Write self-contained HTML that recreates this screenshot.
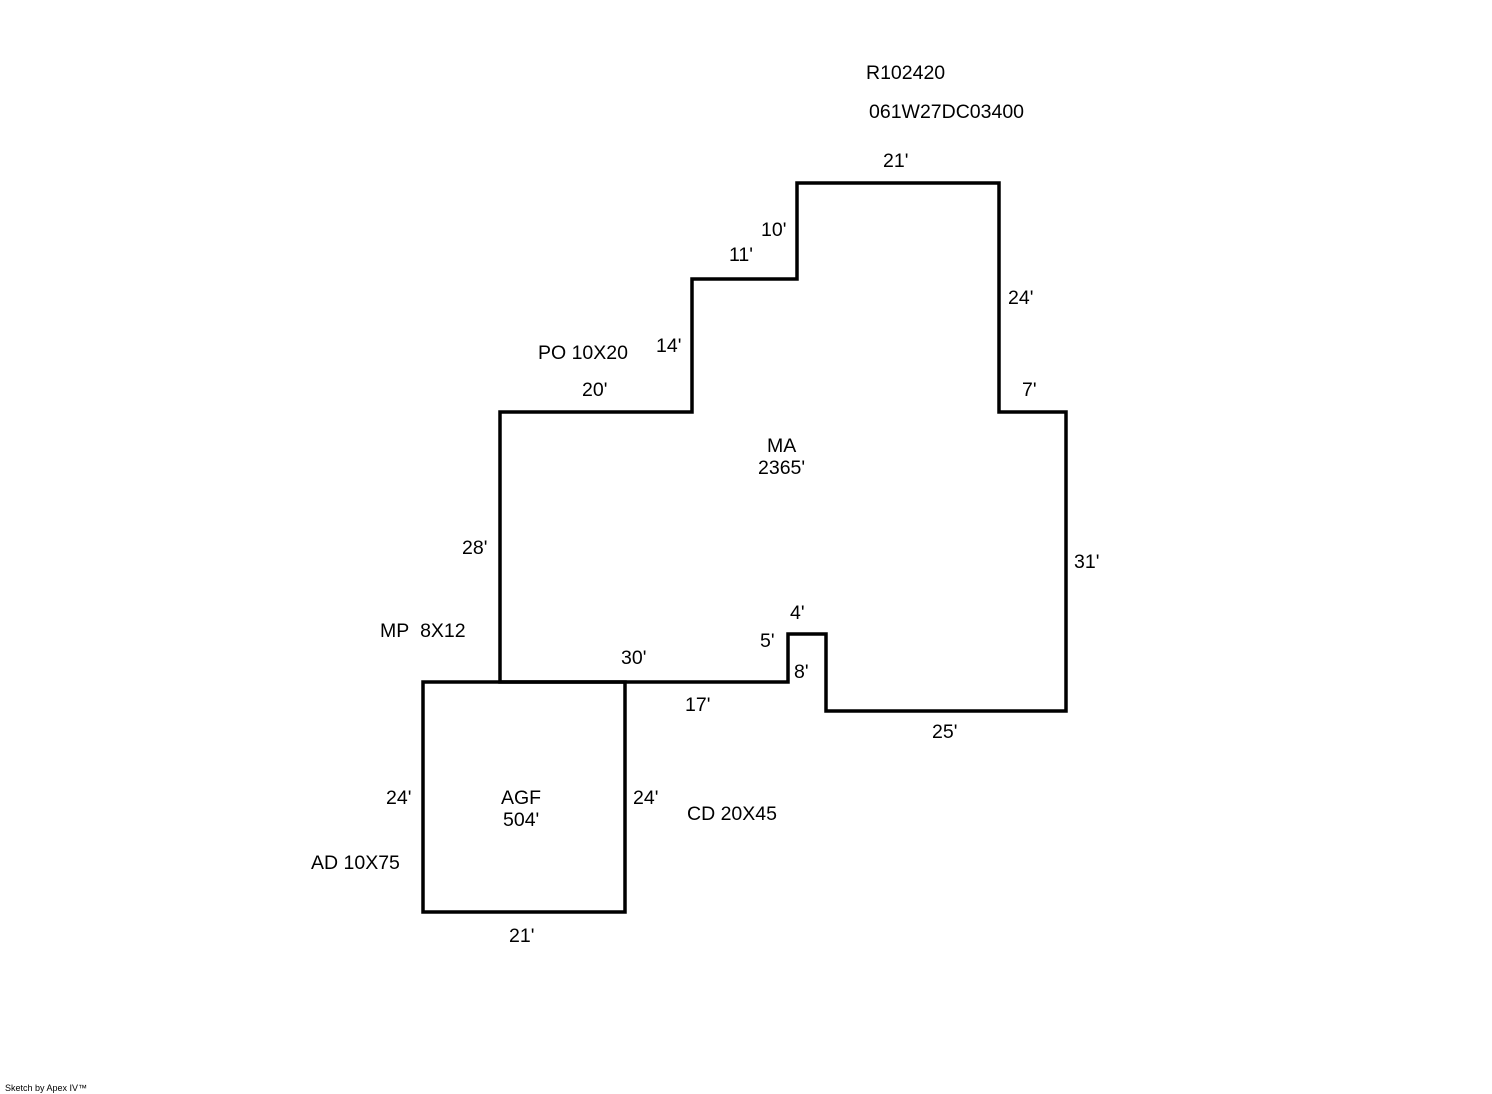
<!DOCTYPE html>
<html><head><style>html,body{margin:0;padding:0;background:#fff}svg{display:block}text{font-family:"Liberation Sans",Arial,sans-serif;font-size:19.5px;fill:#000}</style></head><body>
<svg width="1492" height="1094" xmlns="http://www.w3.org/2000/svg">
<g fill="none" stroke="#000" stroke-width="3.5" stroke-linejoin="miter">
<polygon points="797,183 999,183 999,412 1066,412 1066,711 826,711 826,634 788,634 788,682 500,682 500,412 692,412 692,279 797,279"/>
<rect x="423" y="682" width="202" height="230"/>
</g>
<text x="866" y="79">R102420</text>
<text x="869" y="118">061W27DC03400</text>
<text x="883" y="167">21'</text>
<text x="761" y="236">10'</text>
<text x="729" y="261">11'</text>
<text x="1008" y="304">24'</text>
<text x="656" y="352">14'</text>
<text x="538" y="359">PO 10X20</text>
<text x="582" y="396">20'</text>
<text x="1022" y="396">7'</text>
<text x="767" y="452">MA</text>
<text x="758" y="474">2365'</text>
<text x="462" y="554">28'</text>
<text x="1074" y="568">31'</text>
<text x="790" y="619">4'</text>
<text x="380" y="637">MP&#160;&#160;8X12</text>
<text x="760" y="647">5'</text>
<text x="621" y="664">30'</text>
<text x="794" y="678">8'</text>
<text x="685" y="711">17'</text>
<text x="932" y="738">25'</text>
<text x="386" y="804">24'</text>
<text x="501" y="804">AGF</text>
<text x="633" y="804">24'</text>
<text x="503" y="826">504'</text>
<text x="687" y="820">CD 20X45</text>
<text x="311" y="869">AD 10X75</text>
<text x="509" y="942">21'</text>
<text x="5" y="1091" style="font-size:9px">Sketch by Apex IV™</text>
</svg>
</body></html>
